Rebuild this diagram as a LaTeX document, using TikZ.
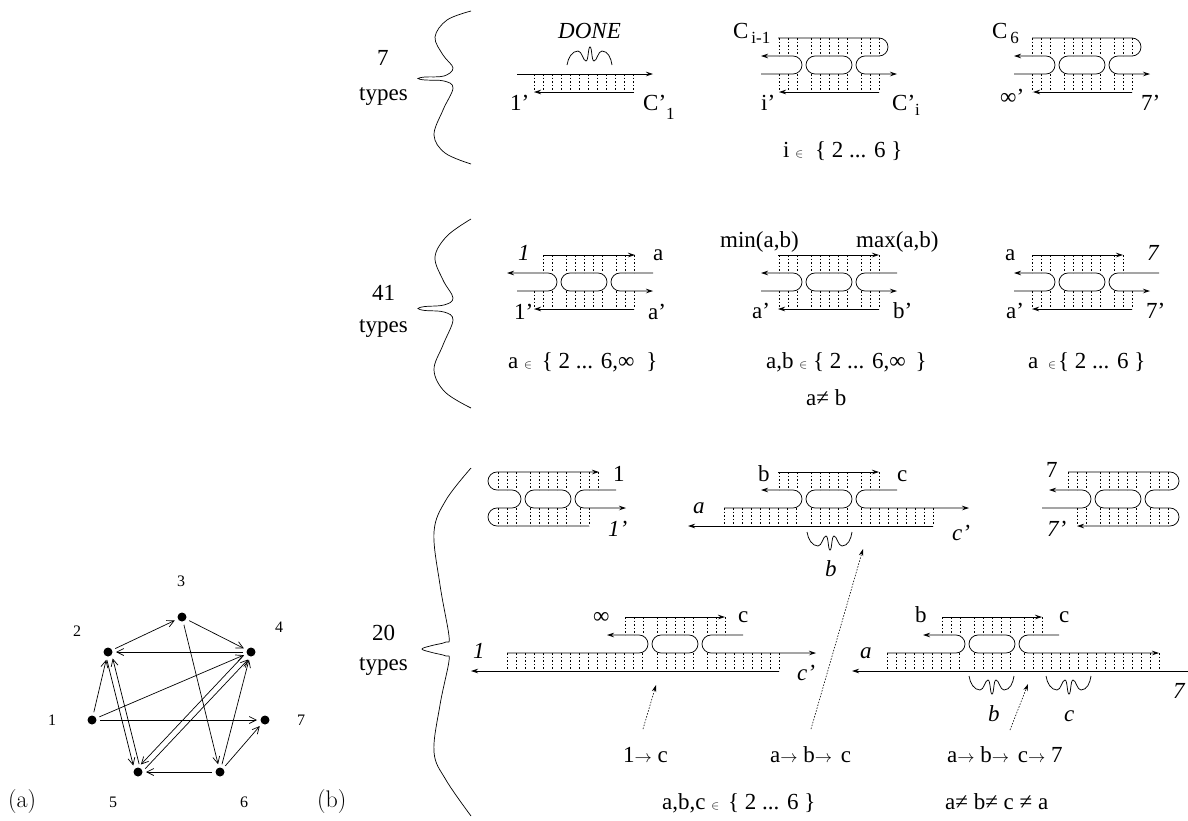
\documentclass[tikz,border=0pt]{standalone}
\usepackage{fontspec}
\usetikzlibrary{arrows.meta}
\newfontfamily\timesfont[Ligatures=TeX]{Liberation Serif}
\newcommand{\labelfont}{\timesfont\fontsize{23}{25}\selectfont}
\newcommand{\isin}{$\scriptscriptstyle\in$}
\newcommand{\toarrow}{{\fontsize{18}{18}\selectfont$\rightarrow$}}
\newcommand{\lowtext}[2]{\lower#1\hbox{\fontsize{17}{17}\selectfont #2}}
% the oval between the two strands
\newcommand{\capsule}[2]{\draw[wire] (#1-14,#2-9) -- (#1+14,#2-9) arc (-90:90:9) -- (#1-14,#2+9) arc (90:270:9) -- cycle;}
% left and right bends: centre x, centre y, upper end, lower end
\newcommand{\leftbend}[4]{\draw[wire,<-] (#3,#2-9) -- (#1-36,#2-9) arc (-90:90:9) -- (#4,#2+9);}
\newcommand{\rightbend}[4]{\draw[wire,->] (#3,#2-9) -- (#1+36,#2-9) arc (-90:-270:9) -- (#4,#2+9);}
\newcommand{\rungs}[5]{\foreach \dx in {#4,-18,-9,0,9,18,#5} \draw[rung] (#1+\dx,#2) -- (#1+\dx,#3);}
% x, y, and 1 for a wave below the strand, -1 for one above it
\newcommand{\wiggle}[3]{\draw[wire] (#1,#2) .. controls (#1+1,#2+#3*7) and (#1+5,#2+#3*14) .. (#1+11,#2+#3*14)
  .. controls (#1+15,#2+#3*14) and (#1+16,#2+#3*4) .. (#1+19,#2+#3*4)
  .. controls (#1+21.5,#2+#3*4) and (#1+21,#2+#3*18) .. (#1+23,#2+#3*18)
  .. controls (#1+25,#2+#3*18) and (#1+24.5,#2+#3*4) .. (#1+27,#2+#3*4)
  .. controls (#1+30,#2+#3*4) and (#1+31,#2+#3*14) .. (#1+35,#2+#3*14)
  .. controls (#1+41,#2+#3*14) and (#1+44,#2+#3*7) .. (#1+45,#2);}
\begin{document}
\begin{tikzpicture}[%
    x=1pt, y=-1pt,
    >={Stealth[length=7pt,width=4.5pt]},
    ]
% -------------------------------------------------
\tikzset{
  wire/.style={line width=.75pt},
  rung/.style={line width=.5pt, dash pattern=on 1.6pt off 2pt},
  hint/.style={->, line width=.6pt, dash pattern=on 1.5pt off 1.5pt},
  curly/.style={line width=.7pt},
  lab/.style={anchor=base west, inner sep=0pt, font=\labelfont},
  paren/.style={anchor=base west, inner sep=0pt, font=\fontsize{24}{26}\selectfont},
  vertex/.style={circle, fill, minimum size=9pt, inner sep=0pt, outer sep=3.5pt},
  vertexno/.style={inner sep=0pt, font=\timesfont\fontsize{16}{18}\selectfont},
  edge/.style={line width=.7pt, -{Straight Barb[length=7pt,width=7pt]}}
}
\useasboundingbox (0,0) rectangle (1188,820);
% -------------------------------------------------
% (a) the graph
\node [vertex] (n1) at (92,720) {};
\node [vertex] (n2) at (108,652) {};
\node [vertex] (n3) at (182,617) {};
\node [vertex] (n4) at (251,652) {};
\node [vertex] (n5) at (138,772) {};
\node [vertex] (n6) at (220,772) {};
\node [vertex] (n7) at (265,720) {};
\node [vertexno] (no1) at (52,720) {1};
\node [vertexno] (no2) at (77,631) {2};
\node [vertexno] (no3) at (181,581) {3};
\node [vertexno] (no4) at (279,627) {4};
\node [vertexno] (no5) at (113,802) {5};
\node [vertexno] (no6) at (244,802) {6};
\node [vertexno] (no7) at (301,720) {7};
\draw [edge] (n1) -- (n2);
\draw [edge] (n2) -- (n3);
\draw [edge] (n3) -- (n4);
\draw [edge] (n3) -- (n6);
\draw [edge] (n4) -- (n2);
\draw [edge] (n1) -- (n4);
\draw [edge] (n1) -- (n7);
\draw [edge] (n6) -- (n7);
\draw [edge] (n6) -- (n4);
\draw [edge] (n6) -- (n5);
\draw [edge] (n2.-98) -- (n5.126);
\draw [edge] (n5.82) -- (n2.-54);
\draw [edge] (n4.205) -- (n5.69);
\draw [edge] (n5.25) -- (n4.249);
\node [paren] (tagA) at (8,807) {(a)};
\node [paren] (tagB) at (317,807) {(b)};
% -------------------------------------------------
% (b) the three braces
\draw [curly] plot[smooth,tension=.6] coordinates {(471,11) (447,20) (435,37) (443,55) (453,68) (444,76) (425,77) (418,78.5) (425,80) (444,81) (453,88) (443,110) (434,135) (445,153) (471,164)};
\draw [curly] plot[smooth,tension=.6] coordinates {(471,219) (447,236) (435,257) (443,280) (453,298) (444,305) (425,306.5) (418,308.5) (425,310.5) (444,312) (453,320) (443,345) (434,370) (445,392) (471,408)};
\draw [curly] plot[smooth,tension=.6] coordinates {(471,468) (446,500) (434,532) (440,585) (449,636) (446,642) (432,645.5) (422,649) (432,652.5) (446,656) (449,661) (440,705) (434,752) (446,780) (471,816)};
\node [lab] (cntA) at (377,65) {7};
\node [lab] (typA) at (359,100) {types};
\node [lab] (cntB) at (372,300) {41};
\node [lab] (typB) at (359,332) {types};
\node [lab] (cntC) at (372,640) {20};
\node [lab] (typC) at (359,670) {types};
% -------------------------------------------------
% first row
\draw [wire,->] (517,74) -- (653,74);
\draw [wire,->] (634,92) -- (534,92);
\foreach \dx in {534,543,...,634} \draw [rung] (\dx,74) -- (\dx,92);
\wiggle{567}{65}{-1}
\node [lab] (done) at (558,38) {\textit{DONE}};
\node [lab] (oneA) at (510,110) {1'};
\node [lab] (cOne) at (643,110) {C'\lowtext{9pt}{1}};

\capsule{829}{65}
\leftbend{829}{65}{761}{761}
\draw [wire,->] (778,38) -- (879,38) arc (-90:90:9) -- (865,56) arc (-90:-270:9) -- (897,74);
\draw [wire,->] (879,92) -- (779,92);
\rungs{829}{38}{56}{-50,-41,-32}{32,41,50}
\rungs{829}{74}{92}{-50,-41,-32}{32,41,50}
\node [lab] (cMin) at (733,38) {C\lowtext{5pt}{\,i-1}};
\node [lab] (iPr) at (761,110) {i'};
\node [lab] (cPr) at (892,110) {C'\lowtext{5pt}{i}};
\node [lab] (setA) at (783,157) {i \isin{}\hspace{6pt} \{ 2 ... 6 \}};

\capsule{1082}{65}
\leftbend{1082}{65}{1014}{1014}
\draw [wire,->] (1032,38) -- (1132,38) arc (-90:90:9) -- (1118,56) arc (-90:-270:9) -- (1150,74);
\draw [wire,->] (1132,92) -- (1033,92);
\rungs{1082}{38}{56}{-50,-41,-32}{32,41,50}
\rungs{1082}{74}{92}{-50,-41,-32}{32,41,50}
\node [lab] (cSix) at (992,38) {C\lowtext{5pt}{\,6}};
\node [lab] (infPr) at (1000,104) {∞'};
\node [lab] (sevPr) at (1141,110) {7'};
% -------------------------------------------------
% second row
\capsule{584}{282}
\leftbend{584}{282}{507}{517}
\rightbend{584}{282}{653}{653}
\draw [wire,->] (543,255) -- (635,255);
\draw [wire,->] (634,309) -- (534,309);
\rungs{584}{255}{273}{-41,-32}{32,41,50}
\rungs{584}{291}{309}{-50,-41,-32}{32,41,50}
\node [lab] (oneB) at (518,260) {\textit{1}};
\node [lab] (aB) at (653,260) {a};
\node [lab] (onePrB) at (514,319) {1'};
\node [lab] (aPrB) at (648,319) {a'};
\node [lab] (setB) at (508,368) {a \isin{}\hspace{4pt} \{ 2 ... 6,∞\hspace{6pt} \}};

\capsule{829}{282}
\leftbend{829}{282}{761}{761}
\rightbend{829}{282}{897}{897}
\draw [wire,->] (778,255) -- (879,255);
\draw [wire,->] (879,309) -- (778,309);
\rungs{829}{255}{273}{-50,-41,-32}{32,41,50}
\rungs{829}{291}{309}{-50,-41,-32}{32,41,50}
\node [lab] (minAB) at (720,247) {min(a,b)};
\node [lab] (maxAB) at (856,247) {max(a,b)};
\node [lab] (aPrC) at (752,318) {a'};
\node [lab] (bPrC) at (893,318) {b'};
\node [lab] (setC) at (766,368) {a,b \isin{} \{ 2 ... 6,∞\hspace{4pt} \}};
\node [lab] (neqAB) at (806,405) {a≠ b};

\capsule{1082}{282}
\leftbend{1082}{282}{1014}{1014}
\rightbend{1082}{282}{1159}{1150}
\draw [wire,->] (1032,255) -- (1123,255);
\draw [wire,->] (1132,309) -- (1032,309);
\rungs{1082}{255}{273}{-50,-41,-32}{32,41}
\rungs{1082}{291}{309}{-50,-41,-32}{32,41,50}
\node [lab] (aD) at (1005,260) {a};
\node [lab] (sevD) at (1147,260) {\textit{7}};
\node [lab] (aPrD) at (1006,318) {a'};
\node [lab] (sevPrD) at (1146,318) {7'};
\node [lab] (setD) at (1028,368) {a\hspace{4pt} \isin{}\hspace{2pt}\{ 2 ... 6 \}};
% -------------------------------------------------
% third row
\capsule{548}{499}
\draw [wire,->] (589,526) -- (497,526) arc (90:270:9) -- (512,508) arc (90:-90:9) -- (497,490) arc (90:270:9) -- (599,472);
\rightbend{548}{499}{616}{626}
\rungs{548}{472}{490}{-50,-41,-32}{32,41,50}
\rungs{548}{508}{526}{-50,-41,-32}{32,41}
\node [lab] (oneE) at (613,481) {1};
\node [lab] (onePrE) at (608,536) {\textit{1'}};

\capsule{829}{499}
\leftbend{829}{499}{761}{724}
\rightbend{829}{499}{897}{969}
\draw [wire,->] (778,472) -- (879,472);
\draw [wire,->] (933,526) -- (688,526);
\rungs{829}{472}{490}{-50,-41,-32}{32,41,50}
\rungs{829}{508}{526}{-105,-96,...,-33}{32,41,...,104}
\wiggle{807}{532}{1}
\node [lab] (bF) at (758,481) {b};
\node [lab] (cF) at (897,481) {c};
\node [lab] (aF) at (693,513) {\textit{a}};
\node [lab] (cPrF) at (952,540) {\textit{c'}};
\node [lab] (bItF) at (825,576) {\textit{b}};

\capsule{1118}{499}
\leftbend{1118}{499}{1049}{1042}
\draw [wire,->] (1068,472) -- (1170,472) arc (-90:90:9) -- (1154,490) arc (-90:-270:9) -- (1170,508) arc (-90:90:9) -- (1077,526);
\rungs{1118}{472}{490}{-50,-41,-32}{32,41,50}
\rungs{1118}{508}{526}{-41,-32}{32,41,50}
\node [lab] (sevG) at (1046,477) {7};
\node [lab] (sevPrG) at (1047,536) {\textit{7'}};
% -------------------------------------------------
% fourth row
\capsule{675}{644}
\leftbend{675}{644}{607}{507}
\rightbend{675}{644}{743}{816}
\draw [wire,->] (625,617) -- (725,617);
\draw [wire,->] (779,671) -- (471,671);
\rungs{675}{617}{635}{-50,-41,-32}{32,41,50}
\rungs{675}{653}{671}{-168,-159,...,-33}{32,41,...,104}
\node [lab] (infH) at (593,623) {∞};
\node [lab] (cH) at (738,622) {c};
\node [lab] (oneH) at (473,658) {\textit{1}};
\node [lab] (cPrH) at (797,680) {\textit{c'}};

\capsule{992}{644}
\leftbend{992}{644}{923}{887}
\rightbend{992}{644}{1059}{1159}
\draw [wire,->] (942,617) -- (1042,617);
\draw [wire,<-] (852,671) -- (1188,671);
\rungs{992}{617}{635}{-50,-41,-32}{32,41,50}
\rungs{992}{653}{671}{-105,-96,...,-33}{32,41,...,167}
\wiggle{969}{676}{1}
\wiggle{1046}{676}{1}
\node [lab] (bJ) at (915,622) {b};
\node [lab] (cJ) at (1059,622) {c};
\node [lab] (aJ) at (860,658) {\textit{a}};
\node [lab] (sevJ) at (1173,698) {\textit{7}};
\node [lab] (bItJ) at (988,721) {\textit{b}};
\node [lab] (cItJ) at (1064,721) {\textit{c}};
% -------------------------------------------------
% paths below, with the dotted pointers
\node [lab] (pathA) at (623,762) {1\toarrow{} c};
\node [lab] (pathB) at (770,762) {a\toarrow{} b\toarrow{}\hspace{3pt} c};
\node [lab] (pathC) at (947,762) {a\toarrow{} b\toarrow{}\hspace{3pt} c\toarrow{} 7};
\node [lab] (setK) at (662,809) {a,b,c \isin{}\hspace{3pt} \{ 2 ... 6 \}};
\node [lab] (neqK) at (945,809) {a≠ b≠ c ≠ a};
\coordinate (fromA) at (643,729);
\coordinate (toA) at (656,685);
\coordinate (fromB) at (811,729);
\coordinate (toB) at (863,549);
\coordinate (fromC) at (1010,730);
\coordinate (toC) at (1028,684);
\draw [hint] (fromA) -- (toA);
\draw [hint] (fromB) -- (toB);
\draw [hint] (fromC) -- (toC);
% -------------------------------------------------
\end{tikzpicture}
\end{document}
